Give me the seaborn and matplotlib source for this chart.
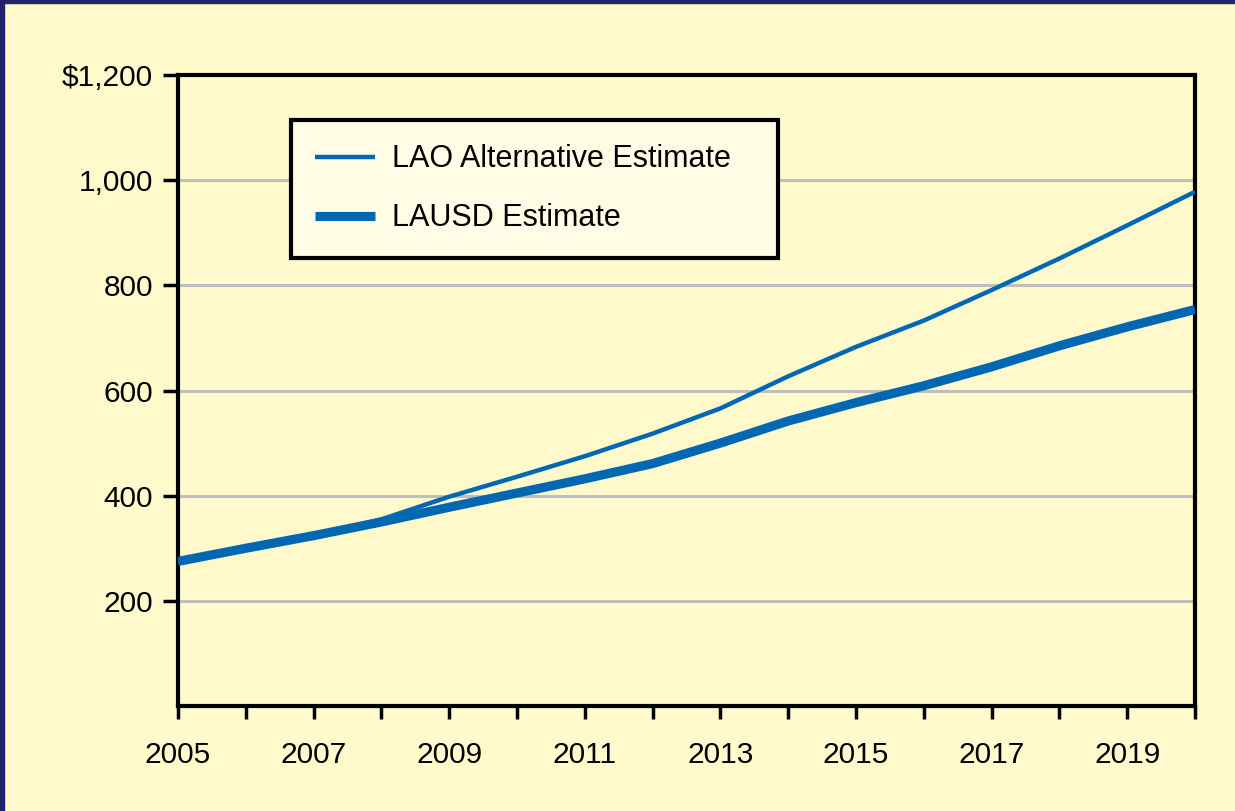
import matplotlib
matplotlib.use("Agg")
import matplotlib.pyplot as plt
import seaborn as sns
import pandas as pd
from matplotlib.ticker import FuncFormatter, MultipleLocator

years = list(range(2005, 2021))
lao_alt = [275, 300, 325, 355, 398, 436, 475, 518, 566, 627, 683, 733, 791, 851, 914, 978]
lausd = [275, 300, 324, 350, 378, 405, 432, 461, 500, 542, 577, 609, 645, 685, 721, 754]
series_names = ["LAO Alternative Estimate", "LAUSD Estimate"]
y_ticks = [200, 400, 600, 800, 1000, 1200]
x_label_years = list(range(2005, 2021, 2))

BG = "#FFF9CC"
LINE = "#0068B2"
NAVY = "#23236B"

sns.set_theme(style="white")
plt.rcParams["font.family"] = ["Liberation Sans", "DejaVu Sans"]
plt.rcParams["text.color"] = "black"

fig = plt.figure(figsize=(12.35, 8.11), dpi=100, facecolor=BG)
# navy border (left and top)
fig.patches.append(plt.Rectangle((0, 0), 4 / 1235, 1, transform=fig.transFigure,
                                 color=NAVY, zorder=10))
fig.patches.append(plt.Rectangle((0, 1 - 3 / 811), 1, 3 / 811, transform=fig.transFigure,
                                 color=NAVY, zorder=10))

ax = fig.add_axes([178 / 1235, 105 / 811, 1017 / 1235, 631 / 811])
ax.set_facecolor(BG)

df = pd.DataFrame({"year": years * 2,
                   "value": lao_alt + lausd,
                   "series": [series_names[0]] * len(years) + [series_names[1]] * len(years)})

sns.lineplot(data=df[df.series == series_names[0]], x="year", y="value", ax=ax,
             color=LINE, linewidth=3.2, label=series_names[0], zorder=3,
             solid_capstyle="butt")
sns.lineplot(data=df[df.series == series_names[1]], x="year", y="value", ax=ax,
             color=LINE, linewidth=6.6, label=series_names[1], zorder=4,
             solid_capstyle="butt")

ax.set_xlim(2005, 2020)
ax.set_ylim(0, 1200)
ax.set_xlabel("")
ax.set_ylabel("")

ax.set_yticks(y_ticks)
ax.yaxis.set_major_formatter(FuncFormatter(lambda v, p: f"${v:,.0f}" if v == 1200 else f"{v:,.0f}"))
ax.xaxis.set_major_locator(MultipleLocator(1))
ax.xaxis.set_major_formatter(FuncFormatter(lambda v, p: f"{int(round(v))}" if int(round(v)) in x_label_years else ""))

for y in y_ticks[:-1]:
    ax.axhline(y, color="#BEBEBE", linewidth=2.2, zorder=1)

for s in ax.spines.values():
    s.set_visible(True)
    s.set_color("black")
    s.set_linewidth(3)

ax.tick_params(axis="y", which="major", direction="out", length=11, width=2.5,
               color="black", labelsize=21.5, labelcolor="black", pad=7, left=True)
ax.tick_params(axis="x", which="major", direction="out", length=9, width=2.5,
               color="black", labelsize=21.5, labelcolor="black", pad=16, bottom=True)

leg = ax.legend(loc="upper left",
                bbox_to_anchor=(291 / 1235, 1 - 257 / 811, 487 / 1235, 137 / 811),
                bbox_transform=fig.transFigure, borderaxespad=0, mode="expand",
                frameon=True, fancybox=False, fontsize=22, handlelength=1.95,
                handletextpad=0.55, borderpad=0.8, labelspacing=0.95,
                facecolor="#FFFDE6", edgecolor="black", framealpha=1)
leg.get_frame().set_linewidth(3)
for t in leg.get_texts():
    t.set_color("black")
for h in leg.get_lines():
    h.set_solid_capstyle("butt")
leg.set_zorder(5)

fig.savefig("out.png", dpi=100, facecolor=BG)
